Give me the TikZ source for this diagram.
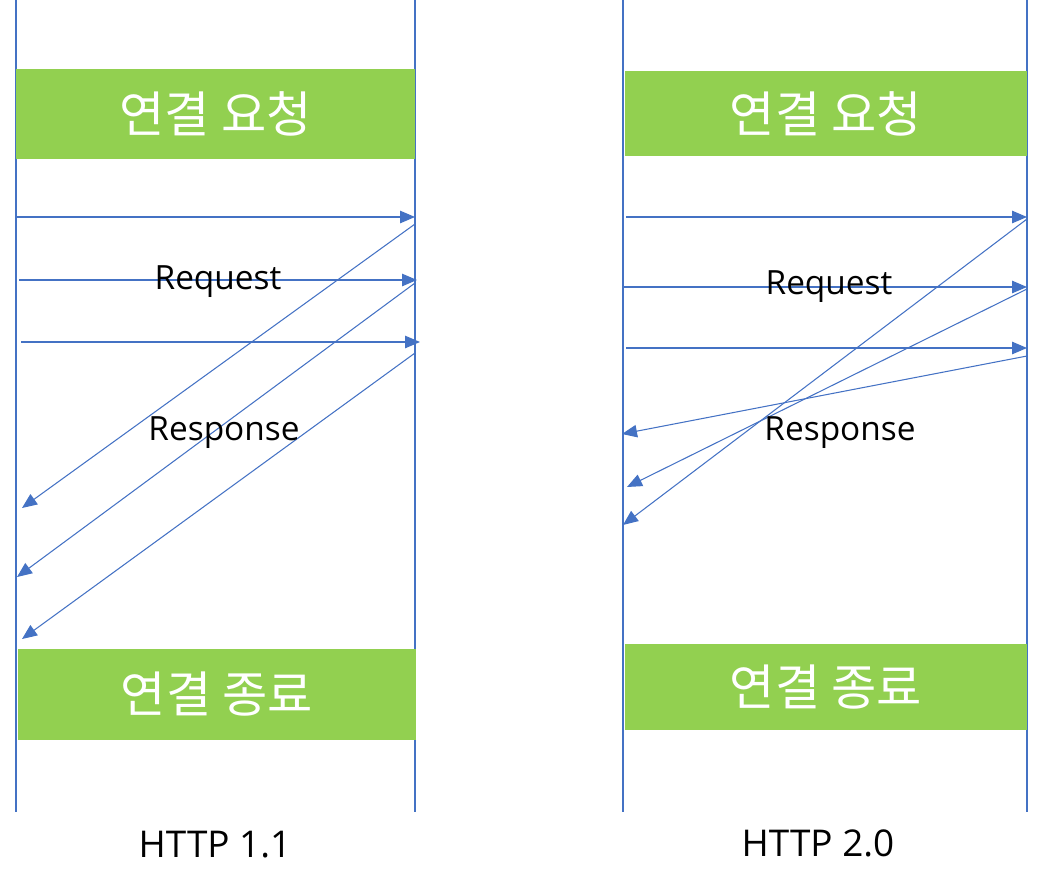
\documentclass[tikz,border=0pt]{standalone}
\usepackage{fontspec}
\setmainfont{Open Sans}
\newfontfamily\krfont{Noto Sans CJK KR}
\usetikzlibrary{arrows.meta, positioning}
\definecolor{lineblue}{HTML}{4472C4}
\definecolor{boxgreen}{HTML}{92D050}

\begin{document}
\begin{tikzpicture}[x=0.02cm, y=-0.02cm,
        phase/.style={rectangle, fill=boxgreen, inner sep=0pt, minimum width=8cm, font=\krfont\fontsize{28}{32}\selectfont, text=white},
        lifeline/.style={lineblue, line width=0.6pt},
        msg/.style={-{Triangle[length=0.3cm, width=0.25cm]}, lineblue, line width=0.6pt},
        msgtext/.style={font=\fontsize{19}{23}\selectfont},
        vertext/.style={font=\fontsize{21}{25}\selectfont}
    ]
        \useasboundingbox (0,0) rectangle (1041,889);

        % HTTP 1.1
        \coordinate (a-top) at (16,0);   \coordinate (a-bot) at (16,812);
        \coordinate (b-top) at (415,0);  \coordinate (b-bot) at (415,812);
        \draw[lifeline] (a-top) -- (a-bot);
        \draw[lifeline] (b-top) -- (b-bot);
        \node[phase, minimum height=1.8cm] (open1) at (215.5,114) {연결 요청};
        \node[phase, minimum height=1.82cm, minimum width=7.96cm] (close1) at (217,694.5) {연결 종료};

        \coordinate (q1s) at (16,217);  \coordinate (q1e) at (415,217);
        \coordinate (q2s) at (19,280);  \coordinate (q2e) at (417,280);
        \coordinate (q3s) at (21,342);  \coordinate (q3e) at (420,342);
        \coordinate (r1s) at (415,224); \coordinate (r1e) at (22,508);
        \coordinate (r2s) at (415,283); \coordinate (r2e) at (17,577);
        \coordinate (r3s) at (415,353); \coordinate (r3e) at (22,639);
        \draw[msg] (q1s) -- (q1e);
        \draw[msg] (q2s) -- (q2e);
        \draw[msg] (q3s) -- (q3e);
        \draw[msg] (r1s) -- (r1e);
        \draw[msg] (r2s) -- (r2e);
        \draw[msg] (r3s) -- (r3e);
        \node[msgtext] (req1) at (218,282) {Request};
        \node[msgtext] (res1) at (224,433) {Response};
        \node[vertext] (ver1) at (215,845) {HTTP 1.1};

        % HTTP 2.0
        \coordinate (c-top) at (623,0);  \coordinate (c-bot) at (623,812);
        \coordinate (d-top) at (1027,0); \coordinate (d-bot) at (1027,812);
        \draw[lifeline] (c-top) -- (c-bot);
        \draw[lifeline] (d-top) -- (d-bot);
        \node[phase, minimum height=1.7cm, minimum width=8.04cm] (open2) at (826,113.5) {연결 요청};
        \node[phase, minimum height=1.72cm, minimum width=8.04cm] (close2) at (826,687) {연결 종료};

        \coordinate (s1s) at (626,217);  \coordinate (s1e) at (1027,217);
        \coordinate (s2s) at (623,287);  \coordinate (s2e) at (1027,287);
        \coordinate (s3s) at (626,348);  \coordinate (s3e) at (1027,348);
        \coordinate (t1s) at (1027,219); \coordinate (t1e) at (623,525);
        \coordinate (t2s) at (1027,289); \coordinate (t2e) at (627,487);
        \coordinate (t3s) at (1027,356); \coordinate (t3e) at (622,434);
        \draw[msg] (s1s) -- (s1e);
        \draw[msg] (s2s) -- (s2e);
        \draw[msg] (s3s) -- (s3e);
        \draw[msg] (t1s) -- (t1e);
        \draw[msg] (t2s) -- (t2e);
        \draw[msg] (t3s) -- (t3e);
        \node[msgtext] (req2) at (829,287) {Request};
        \node[msgtext] (res2) at (840,433) {Response};
        \node[vertext] (ver2) at (818,843) {HTTP 2.0};
    \end{tikzpicture}
\end{document}
